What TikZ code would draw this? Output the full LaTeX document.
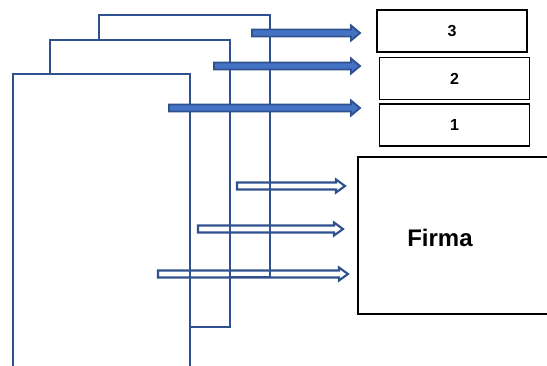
\documentclass[tikz,border=0pt]{standalone}
\usepackage{amsmath}
\usepackage{xcolor}
\usepackage{tikz}
\usepackage{fontspec}
\setmainfont{Liberation Sans}

\definecolor{sheetblue}{HTML}{2F528F}
\definecolor{arrowfill}{HTML}{4472C4}

\tikzset{
  sheet/.style={draw=sheetblue, line width=2pt, line join=miter},
  thickarrow/.style={draw=sheetblue, fill=arrowfill, line width=1.4pt, line join=miter},
  hollowarrow/.style={draw=sheetblue, line width=1.6pt, line join=miter},
  numbox/.style={draw=black, line width=1pt, minimum width=112.5pt, minimum height=31.5pt, inner sep=0pt, font=\bfseries\fontsize{12}{14}\selectfont},
}

\begin{document}
\begin{tikzpicture}[x=0.75pt,y=0.75pt,yscale=-1,xscale=1]
\useasboundingbox (0,0) rectangle (547,365);

% stacked sheets
\draw [sheet]   (99,40) -- (99,15) -- (270,15) -- (270,277) -- (230,277) ;
\draw [sheet]   (50,74) -- (50,40) -- (230,40) -- (230,327) -- (190,327) ;
\draw [sheet]   (13,366) -- (13,74) -- (190,74) -- (190,366) ;

% hollow arrows
\draw [hollowarrow]   (237,182.5) -- (336,182.5) -- (336,179.5) -- (345,186) -- (336,192.5) -- (336,189.5) -- (237,189.5) -- cycle ;
\draw [hollowarrow]   (198,225.5) -- (334,225.5) -- (334,222.5) -- (343,229) -- (334,235.5) -- (334,232.5) -- (198,232.5) -- cycle ;
\draw [hollowarrow]   (158,270.5) -- (339,270.5) -- (339,267.5) -- (348,274) -- (339,280.5) -- (339,277.5) -- (158,277.5) -- cycle ;

% filled arrows
\draw [thickarrow]   (252,29.5) -- (351,29.5) -- (351,25.5) -- (360,33) -- (351,40.5) -- (351,36.5) -- (252,36.5) -- cycle ;
\draw [thickarrow]   (214,62.5) -- (351,62.5) -- (351,58.5) -- (360,66) -- (351,73.5) -- (351,69.5) -- (214,69.5) -- cycle ;
\draw [thickarrow]   (169,104.5) -- (351,104.5) -- (351,100.5) -- (360,108) -- (351,115.5) -- (351,111.5) -- (169,111.5) -- cycle ;

% boxes
\node [numbox] (box3) at (452,31) {3};
\node [numbox] (box2) at (454.5,78.5) {2};
\node [numbox] (box1) at (454.5,125) {1};

\node [draw=black, line width=1pt, minimum width=151.5pt, minimum height=117.75pt, inner sep=0pt] (firmabox) at (459,235.5) {};
\node [font=\bfseries\fontsize{18}{21}\selectfont] (firma) at (440,238) {Firma};

\end{tikzpicture}
\end{document}
